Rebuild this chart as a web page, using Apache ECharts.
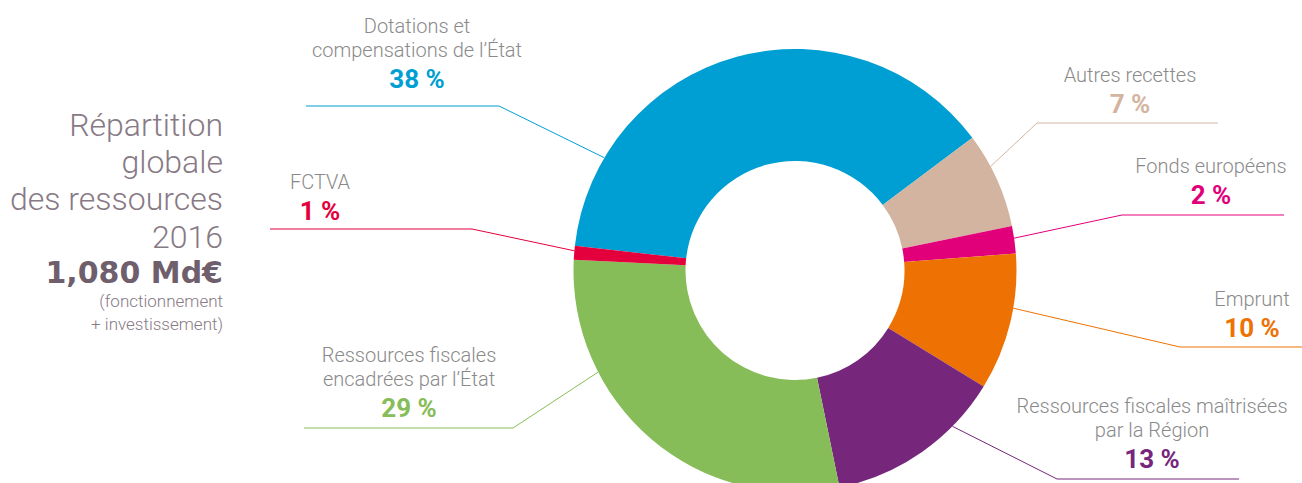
<!DOCTYPE html>
<html>
<head>
<meta charset="utf-8">
<script src="https://cdn.jsdelivr.net/npm/echarts@6/dist/echarts.min.js"></script>
<style>
html,body{margin:0;padding:0;background:#fff;}
#chart{width:1302px;height:483px;}
</style>
</head>
<body>
<div id="chart"></div>
<script>
// ---- data ----
const categories = [
  'Dotations et\ncompensations de l’État',
  'Autres recettes',
  'Fonds européens',
  'Emprunt',
  'Ressources fiscales maîtrisées\npar la Région',
  'Ressources fiscales\nencadrées par l’État',
  'FCTVA'
];
const values = [38, 7, 2, 10, 13, 29, 1];
const percentLabels = ['38 %', '7 %', '2 %', '10 %', '13 %', '29 %', '1 %'];
const titleLines = ['Répartition', 'globale', 'des ressources', '2016'];
const totalLabel = '1,080 Md€';
const noteLines = ['(fonctionnement', '+ investissement)'];

// ---- styles / layout ----
const colors = ['#009fd3', '#d3b4a0', '#e2007a', '#ed7203', '#76277b', '#86bd58', '#e3003c'];
const pieCenter = [795, 270.5];
const pieRadius = [109.5, 221.5];
// anchor angle (deg, clockwise from top), elbow point, line end x, text center x, percent baseline y
const labelPlacement = [
  {a: 300.6, elbow: [499, 106], endX: 306, tx: 417, base: 88},
  {a: 62,    elbow: [1037, 123], endX: 1218, tx: 1130, base: 112.5},
  {a: 81.6,  elbow: [1122, 215], endX: 1284, tx: 1211, base: 204},
  {a: 99.8,  elbow: [1180, 347], endX: 1302, tx: 1252, base: 337},
  {a: 134.7, elbow: [1057, 479], endX: 1239, tx: 1152, base: 468},
  {a: 242.7, elbow: [513, 428], endX: 304, tx: 409, base: 417},
  {a: 275.1, elbow: [472, 229], endX: 270, tx: 320, base: 220}
];

const rich = {n: {fontFamily: 'Roboto', fontWeight: 300, fontSize: 20, lineHeight: 24, color: '#8a8a8a', align: 'center'}};
colors.forEach((c, i) => {
  rich['p' + i] = {fontFamily: 'Roboto', fontWeight: 'bold', fontSize: 26, lineHeight: 34, color: c, align: 'center'};
});

const chart = echarts.init(document.getElementById('chart'), null, {renderer: 'svg'});

const titleColor = '#877a85';
const graphics = [];
const titleBase = [136, 173, 210, 248];
titleLines.forEach((t, i) => {
  graphics.push({type: 'text', x: 223, y: titleBase[i] - 11,
    style: {text: t, fill: titleColor, font: '300 32px Roboto', textAlign: 'right', textVerticalAlign: 'middle'}});
});
graphics.push({type: 'text', x: 223, y: 272,
  style: {text: totalLabel, fill: '#6f5f6d', font: 'bold 30px "DejaVu Sans"', textAlign: 'right', textVerticalAlign: 'middle'}});
const noteBase = [307, 330];
noteLines.forEach((t, i) => {
  graphics.push({type: 'text', x: 223, y: noteBase[i] - 6,
    style: {text: t, fill: titleColor, font: '300 17px Roboto', textAlign: 'right', textVerticalAlign: 'middle'}});
});

chart.setOption({
  animation: false,
  graphic: graphics,
  series: [{
    type: 'pie',
    center: pieCenter,
    radius: pieRadius,
    startAngle: 173.6,
    clockwise: true,
    avoidLabelOverlap: false,
    silent: true,
    data: categories.map((c, i) => ({name: c, value: values[i], itemStyle: {color: colors[i]}})),
    label: {
      show: true,
      position: 'outside',
      formatter: p => p.name.split('\n').map(s => '{n|' + s + '}').join('\n') + '\n{p' + p.dataIndex + '|' + percentLabels[p.dataIndex] + '}',
      rich: rich
    },
    labelLine: {show: true, length: 20, length2: 20, lineStyle: {width: 1}},
    labelLayout: function (params) {
      const L = labelPlacement[params.dataIndex];
      const r = pieRadius[1];
      const rad = L.a * Math.PI / 180;
      const sx = pieCenter[0] + r * Math.sin(rad);
      const sy = pieCenter[1] - r * Math.cos(rad);
      return {
        x: L.tx,
        y: L.base + 8,
        align: 'center',
        verticalAlign: 'bottom',
        labelLinePoints: [[sx, sy], L.elbow, [L.endX, L.elbow[1]]]
      };
    }
  }]
});
</script>
</body>
</html>
